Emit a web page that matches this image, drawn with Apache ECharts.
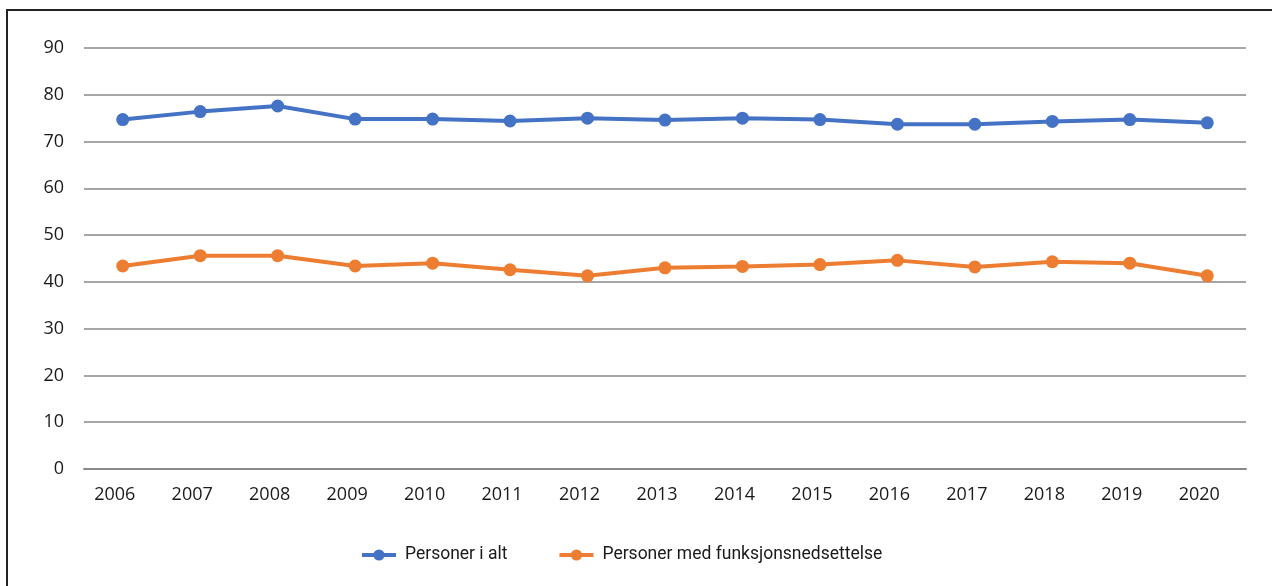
<!DOCTYPE html>
<html>
<head>
<meta charset="utf-8">
<script src="https://cdn.jsdelivr.net/npm/echarts@6/dist/echarts.min.js"></script>
<style>
html,body{margin:0;padding:0;background:#fff;}
#c{width:1272px;height:586px;}
</style>
</head>
<body>
<div id="c"></div>
<script>
const years = ['2006','2007','2008','2009','2010','2011','2012','2013','2014','2015','2016','2017','2018','2019','2020'];
const seriesNames = ['Personer i alt', 'Personer med funksjonsnedsettelse'];
const personerIAlt = [74.7, 76.4, 77.6, 74.8, 74.8, 74.4, 75.0, 74.6, 75.0, 74.7, 73.7, 73.7, 74.3, 74.7, 74.0];
const personerMedFunk = [43.4, 45.6, 45.6, 43.4, 44.0, 42.6, 41.3, 43.0, 43.3, 43.7, 44.6, 43.2, 44.3, 44.0, 41.3];
const yTicks = {min: 0, max: 90, interval: 10};

const font = 'Open Sans';
const chart = echarts.init(document.getElementById('c'), null, {renderer: 'canvas'});
chart.setOption({
  animation: false,
  backgroundColor: '#ffffff',
  textStyle: {fontFamily: font},
  graphic: [{
    type: 'rect',
    shape: {x: 7, y: 10, width: 1400, height: 800},
    style: {fill: 'none', stroke: '#222', lineWidth: 2},
    silent: true
  }],
  grid: {left: 84, right: 26, top: 48, bottom: 117, containLabel: false},
  legend: {
    left: 355, top: 541,
    itemWidth: 34, itemHeight: 14, itemGap: 50,
    lineStyle: {width: 4},
    itemStyle: {borderWidth: 0},
    textStyle: {fontFamily: 'Roboto', fontSize: 17.5, color: '#1a1a1a', padding: [0,0,0,4]},
    data: seriesNames
  },
  xAxis: {
    type: 'category',
    data: years,
    boundaryGap: true,
    axisLine: {show: true, lineStyle: {color: '#898989', width: 2}},
    axisTick: {show: false},
    axisLabel: {fontFamily: font, fontSize: 18, color: '#1a1a1a', margin: 17, padding: [0, 16, 0, 0]}
  },
  yAxis: {
    type: 'value',
    min: yTicks.min, max: yTicks.max, interval: yTicks.interval,
    axisLine: {show: false},
    axisTick: {show: false},
    axisLabel: {fontFamily: font, fontSize: 18, color: '#1a1a1a', margin: 20},
    splitLine: {lineStyle: {color: '#898989', width: 1.5}}
  },
  series: [{
    name: seriesNames[0], type: 'line', data: personerIAlt,
    symbol: 'circle', symbolSize: 13,
    itemStyle: {color: '#4472C4'},
    lineStyle: {color: '#4472C4', width: 4}
  }, {
    name: seriesNames[1], type: 'line', data: personerMedFunk,
    symbol: 'circle', symbolSize: 13,
    itemStyle: {color: '#ED7D31'},
    lineStyle: {color: '#ED7D31', width: 4}
  }]
});
</script>
</body>
</html>
